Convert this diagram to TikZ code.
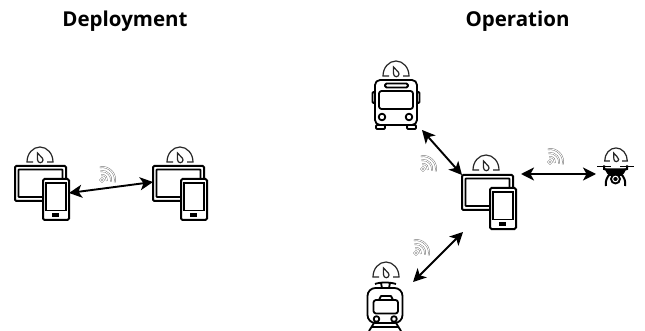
\documentclass[tikz,border=0pt]{standalone}
\usepackage{fontspec}
\setmainfont{Open Sans}
\usetikzlibrary{arrows.meta}
\tikzset{
  every picture/.style={x=1pt,y=1pt},
  ico/.style={line width=1.8pt,draw=black,line join=round},
  hold/.style={inner sep=0pt,outer sep=0pt,minimum width=#1},
  title/.style={font=\fontsize{20.5}{22}\selectfont\bfseries,inner sep=0pt},
  link/.style={{Stealth[length=13pt,width=13pt,inset=3.5pt]}-{Stealth[length=13pt,width=13pt,inset=3.5pt]},line width=1.9pt,black},
  arcw/.style={draw=black!55,line width=0.45pt,double=white,double distance=0.9pt},
  gaugepic/.pic={
    \draw[line width=1.2pt,black!85] (-7,0) -- (-13,0) arc[start angle=180,end angle=0,x radius=13,y radius=15] -- (7,0);
    \draw[line width=1.2pt,black!85,fill=white] (-2.5,9) .. controls (-1,6) and (3,5) .. (3,2) arc[start angle=0,end angle=-180,radius=2.7] .. controls (-2.4,4) and (-3,6) .. cycle;
  },
  devicepic/.pic={
    \draw[line width=2pt,fill=white,rounded corners=1.2pt] (0,0) rectangle (51,-35);
    \draw[line width=1.6pt,rounded corners=0.5pt] (3.5,-3.5) rectangle (47.5,-31);
    \draw[line width=2pt,fill=white,rounded corners=1.5pt] (28,-13) rectangle (54,-54);
    \draw[line width=1.5pt] (31,-17) rectangle (51,-44.5);
    \fill (37,-47.5) rectangle (44,-51);
  },
  wifipic/.pic={
    \draw[arcw] (0,0) circle[radius=1.7];
    \draw[arcw] (-0.8,4.9) arc[start angle=100,end angle=-10,radius=5];
    \draw[arcw] (-1.4,8.9) arc[start angle=100,end angle=-10,radius=9];
    \draw[arcw] (-2.2,12.8) arc[start angle=100,end angle=-10,radius=13];
  },
  buspic/.pic={
    \draw[ico,fill=white,rounded corners=1pt] (4,-45) rectangle (13,-49);
    \draw[ico,fill=white,rounded corners=1pt] (35,-45) rectangle (44,-49);
    \draw[ico,fill=white,rounded corners=5pt] (3,0) rectangle (45,-45);
    \draw[ico,rounded corners=1pt] (0.5,-12) rectangle (3,-23);
    \draw[ico,rounded corners=1pt] (45,-12) rectangle (47.5,-23);
    \draw[ico,rounded corners=1.5pt] (13,-3.5) rectangle (36,-7.5);
    \draw[ico,rounded corners=2.5pt] (7,-11) rectangle (41,-29);
    \draw[ico] (10,-37) circle[radius=3.3];
    \draw[ico] (37,-37) circle[radius=3.3];
  },
  trampic/.pic={
    \draw[ico] (9,-2) .. controls (14,0) and (24,0) .. (30,-2);
    \draw[ico] (15,-1) -- (16,-6);
    \draw[ico] (24,-1) -- (23,-6);
    \draw[ico,fill=white,rounded corners=8pt] (1.5,-6) rectangle (36.5,-41);
    \draw[ico] (13,-18) -- (15,-14) -- (25,-14) -- (27,-18);
    \draw[ico,rounded corners=2.5pt] (7.5,-18) rectangle (32,-31.5);
    \draw[ico] (10.5,-37) circle[radius=2.8];
    \draw[ico] (28,-37) circle[radius=2.8];
    \draw[ico] (8,-41) -- (3,-49);
    \draw[ico] (30,-41) -- (35,-49);
    \draw[ico] (6,-45) -- (32,-45);
  },
  dronepic/.pic={
    \draw[line width=1.6pt] (0,-1.5) -- (14,-1.5);
    \draw[line width=1.6pt] (23,-1.5) -- (37,-1.5);
    \draw[line width=2pt] (7,-0.5) -- (7,-4) -- (13,-6) (30,-0.5) -- (30,-4) -- (24,-6);
    \fill (8,-3.5) -- (29,-3.5) .. controls (28,-8) and (26,-10) .. (24,-11) -- (13,-11) .. controls (11,-10) and (9,-8) .. cycle;
    \draw[line width=2pt] (13,-9) .. controls (10,-12) and (8,-16) .. (9,-21);
    \draw[line width=2pt] (24,-9) .. controls (27,-12) and (29,-16) .. (28,-21);
    \fill (18.5,-14) circle[radius=5.5];
    \draw[white,line width=1pt] (18.5,-14) circle[radius=2.8];
  }
}
\begin{document}
\begin{tikzpicture}
\useasboundingbox (0,0) rectangle (645,-331);
\fill[white] (0,0) rectangle (645,-331);
\node[title] (tdep) at (125,-21) {Deployment};
\node[title] (top) at (517.5,-21) {Operation};

\node[hold=54pt,minimum height=54pt] (d1) at (42,-193) {};
\node[hold=55pt,minimum height=54pt] (d2) at (180.5,-193) {};
\node[hold=55pt,minimum height=54pt] (d3) at (489.5,-202) {};
\node[hold=48pt,minimum height=49pt] (bus) at (396,-104.5) {};
\node[hold=36pt,minimum height=49pt] (tram) at (385,-306.5) {};
\node[hold=38pt,minimum height=22pt] (drone) at (616,-176) {};

\pic at (d1.north west) {devicepic};
\pic at (d2.north west) {devicepic};
\pic at (d3.north west) {devicepic};
\pic at (bus.north west) {buspic};
\pic at ([xshift=-1pt]tram.north west) {trampic};
\pic at (drone.north west) {dronepic};

\pic at (40,-162) {gaugepic};
\pic at (180,-162) {gaugepic};
\pic at (486,-170) {gaugepic};
\pic at (396,-76) {gaugepic};
\pic at (386,-277) {gaugepic};
\pic[scale=0.87] at (616,-161) {gaugepic};

\pic at (102,-180) {wifipic};
\pic at (423,-169) {wifipic};
\pic at (416,-253) {wifipic};
\pic at (550,-162) {wifipic};

\draw[link] (d1.east) -- ([yshift=11pt]d2.west);
\draw[link] ([xshift=2pt,yshift=-1pt]bus.south east) -- (d3.north west);
\draw[link] ([xshift=10pt]tram.north east) -- ([xshift=1pt,yshift=-3pt]d3.south west);
\draw[link] ([xshift=4pt,yshift=1pt]d3.north east) -- ([yshift=2pt,xshift=-1pt]drone.west);
\end{tikzpicture}
\end{document}
